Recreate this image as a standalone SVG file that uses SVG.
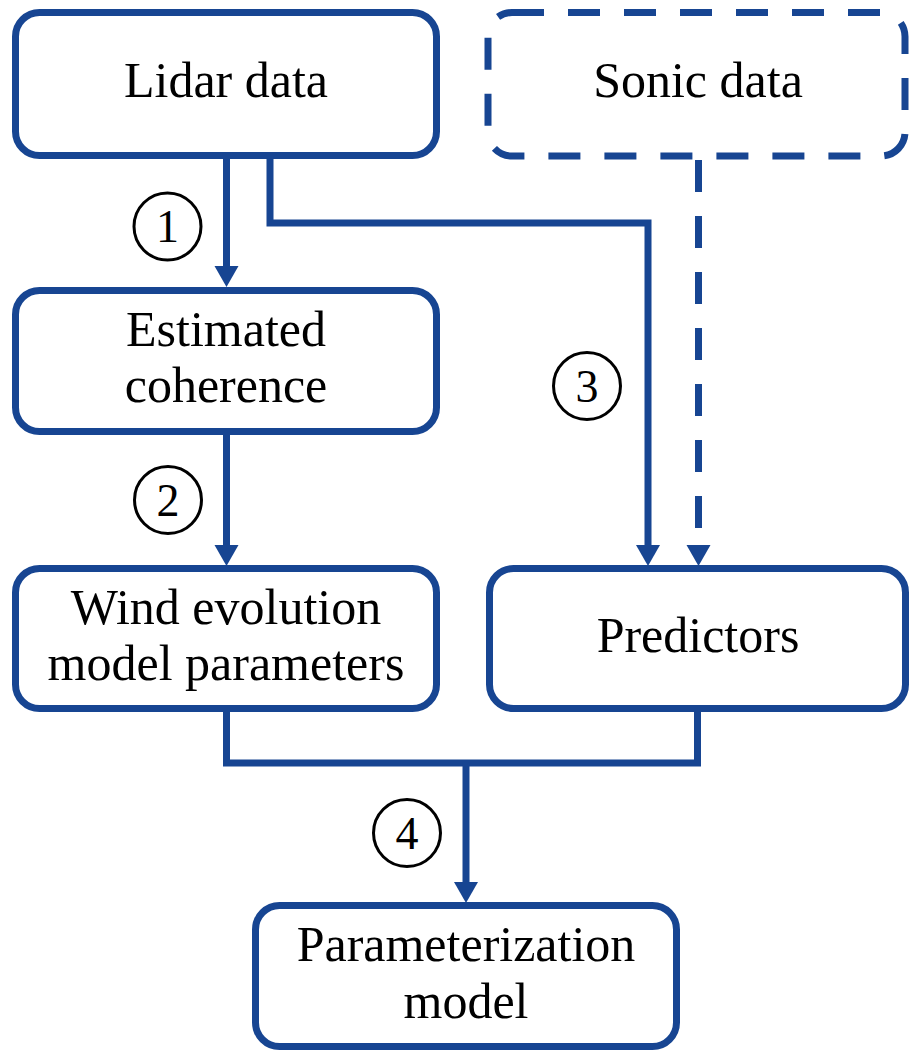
<svg xmlns="http://www.w3.org/2000/svg" width="909" height="1051" viewBox="0 0 909 1051">
<style>
.box{fill:#fff;stroke:#174592;stroke-width:7}
.dash{stroke-dasharray:32 24}
.con{fill:none;stroke:#174592;stroke-width:7}
.lbl{font-family:"Liberation Serif","Times New Roman",serif;font-size:50px;fill:#000;text-anchor:middle}
.num{font-family:"Liberation Serif","Times New Roman",serif;font-size:46px;fill:#000;text-anchor:middle}
.circ{fill:none;stroke:#000;stroke-width:3}
</style>
<defs>
<marker id="ah" markerUnits="userSpaceOnUse" markerWidth="21" markerHeight="24" refX="0" refY="12" orient="auto" overflow="visible">
<path d="M0,0 L21,12 L0,24 Z" fill="#174592"/>
</marker>
</defs>
<g id="connectors">
<path class="con" d="M226.5,159 V266" marker-end="url(#ah)"/>
<path class="con" d="M270,159 V223 H648 V545" marker-end="url(#ah)"/>
<path class="con dash" d="M698.5,160 V545" marker-end="url(#ah)"/>
<path class="con" d="M226.5,435 V545" marker-end="url(#ah)"/>
<path class="con" d="M226.5,712 V763 H697.5 V712"/>
<path class="con" d="M466,763 V882" marker-end="url(#ah)"/>
<g id="step1"><circle class="circ" cx="167.5" cy="226.5" r="33.5"/><text class="num" x="167.5" y="242">1</text></g>
<g id="step2"><circle class="circ" cx="168" cy="500" r="33.5"/><text class="num" x="168" y="516">2</text></g>
<g id="step3"><circle class="circ" cx="587" cy="386" r="33.5"/><text class="num" x="587" y="402">3</text></g>
<g id="step4"><circle class="circ" cx="407" cy="833" r="33.5"/><text class="num" x="407" y="849">4</text></g>
</g>
<g id="lidar"><rect class="box" x="15.5" y="12.5" width="421" height="143" rx="24"/><text class="lbl" x="226" y="97">Lidar data</text></g>
<g id="sonic"><rect class="box dash" x="488" y="12.5" width="417" height="143.5" rx="24"/><text class="lbl" x="698" y="97">Sonic data</text></g>
<g id="coherence"><rect class="box" x="15.5" y="290.5" width="421" height="141" rx="24"/><text class="lbl" x="226" y="346">Estimated</text><text class="lbl" x="226" y="402">coherence</text></g>
<g id="wind"><rect class="box" x="15.5" y="568.5" width="421" height="140" rx="24"/><text class="lbl" x="226" y="624">Wind evolution</text><text class="lbl" x="226" y="680">model parameters</text></g>
<g id="predictors"><rect class="box" x="489.5" y="568.5" width="416" height="140" rx="24"/><text class="lbl" x="698" y="652">Predictors</text></g>
<g id="param"><rect class="box" x="255.5" y="905.5" width="421" height="141" rx="24"/><text class="lbl" x="466" y="961">Parameterization</text><text class="lbl" x="466" y="1018">model</text></g>
</svg>
